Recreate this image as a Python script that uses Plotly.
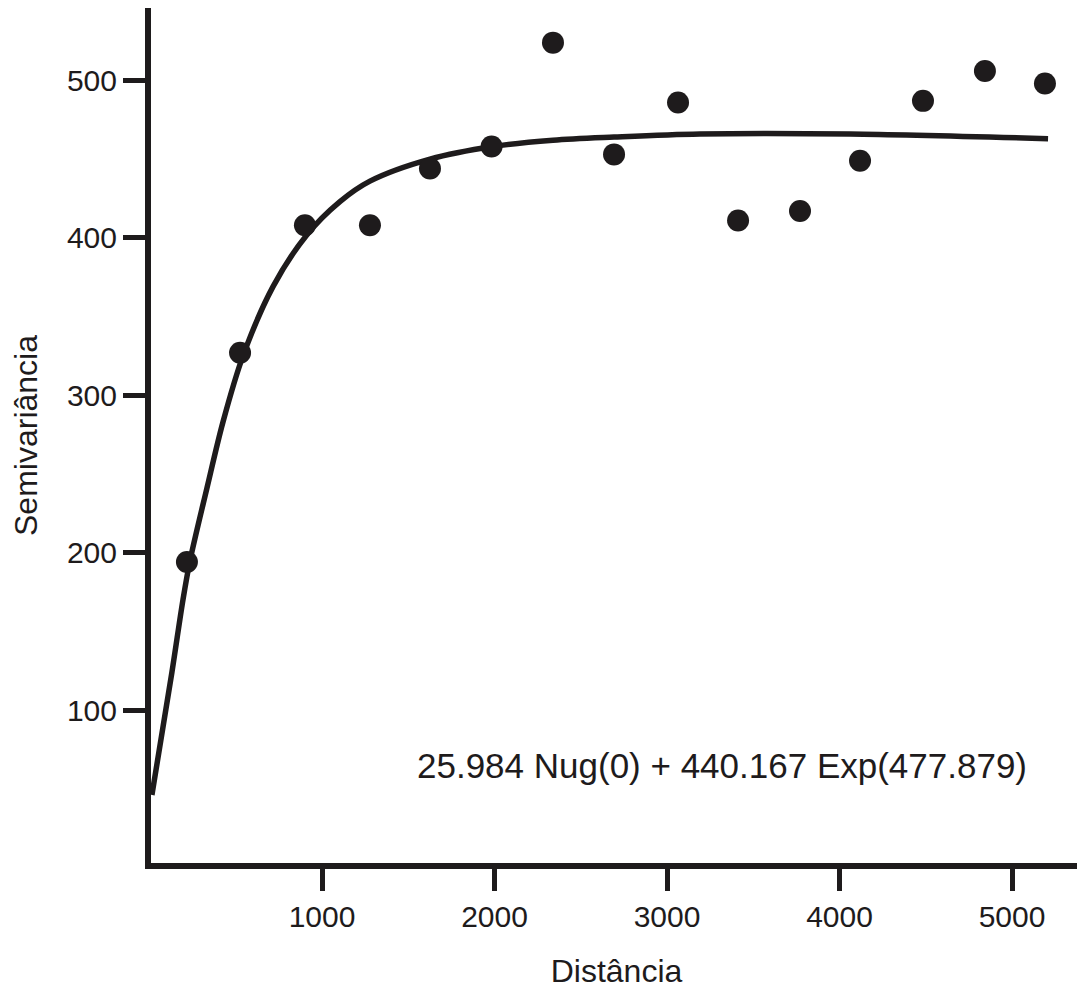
import plotly.graph_objects as go

# Experimental semivariogram points (lag distance, semivariance)
lag = [217, 525, 901, 1278, 1626, 1983, 2339, 2693, 3064, 3412, 3771, 4119, 4484, 4843, 5191]
semivar = [194, 327, 408, 408, 444, 458, 524, 453, 486, 411, 417, 449, 487, 506, 498]

# Fitted model curve
model_x = [14, 130, 194, 235, 333, 426, 542, 716, 913, 1104, 1278, 1626, 1991, 2339, 2693, 3191, 4061, 5209]
model_y = [46, 124, 170, 195, 241, 283, 325, 369, 402, 423, 436, 450, 458, 462, 464, 466, 466, 463]

x_ticks = [1000, 2000, 3000, 4000, 5000]
y_ticks = [100, 200, 300, 400, 500]

model_label = "25.984 Nug(0) + 440.167 Exp(477.879)"

ink = "#1e1b1c"
font = "Liberation Sans, Arial, sans-serif"

fig = go.Figure()
fig.add_trace(go.Scatter(
    x=model_x, y=model_y, mode="lines",
    line=dict(color=ink, width=5.5, shape="spline", smoothing=0.9),
    showlegend=False, cliponaxis=False,
))
fig.add_trace(go.Scatter(
    x=lag, y=semivar, mode="markers",
    marker=dict(color=ink, size=22, line=dict(width=0)),
    showlegend=False, cliponaxis=False,
))

fig.add_annotation(
    x=3319, y=65, xref="x", yref="y", text=model_label, showarrow=False,
    font=dict(family=font, size=35, color=ink), xanchor="center", yanchor="middle",
)

# page body has an 8px margin; figure sized to fit the viewport
fig.update_layout(
    width=1077, height=981,
    margin=dict(l=143, r=3, t=0, b=126),
    paper_bgcolor="white", plot_bgcolor="white",
    font=dict(family=font, color=ink),
    xaxis=dict(
        range=[8.7, 5405.8], tickvals=x_ticks, ticktext=[str(v) for v in x_ticks],
        showgrid=False, zeroline=False, showline=True, linecolor=ink, linewidth=6,
        ticks="outside", ticklen=22, tickwidth=5, tickcolor=ink, automargin=False,
        tickfont=dict(family=font, size=30, color=ink),
        title=dict(text="Distância", font=dict(family=font, size=32, color=ink), standoff=30),
    ),
    yaxis=dict(
        range=[2.8, 546.0], tickvals=y_ticks, ticktext=[str(v) for v in y_ticks],
        showgrid=False, zeroline=False, showline=True, linecolor=ink, linewidth=6,
        ticks="outside", ticklen=22, tickwidth=5, tickcolor=ink, automargin=False,
        tickfont=dict(family=font, size=30, color=ink),
        title=dict(text="Semivariância", font=dict(family=font, size=32, color=ink), standoff=24),
    ),
)

fig.write_html("out.html")
